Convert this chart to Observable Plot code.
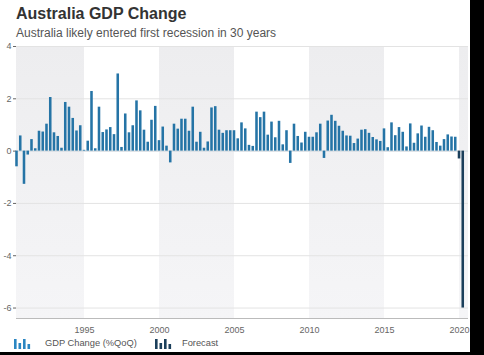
<!DOCTYPE html>
<html><head><meta charset="utf-8">
<script src="https://cdn.jsdelivr.net/npm/d3@7"></script>
<script src="https://cdn.jsdelivr.net/npm/@observablehq/plot@0.6"></script>
<style>
html,body{margin:0;padding:0;background:#000;font-family:"Liberation Sans",Arial,sans-serif;}
#wrap{position:relative;width:470px;height:352px;background:#fff;overflow:hidden;}
#title{position:absolute;left:16px;top:5px;font-size:16px;font-weight:bold;color:#333;white-space:nowrap;}
#subtitle{position:absolute;left:16px;top:26px;font-size:12px;color:#555;white-space:nowrap;}
#chart{position:absolute;left:0;top:40px;}
#legend{position:absolute;left:0;top:337px;width:470px;height:14px;font-size:9.3px;color:#555;}
#legend .ic{position:absolute;top:2px;}
#legend .tx{position:absolute;top:1px;white-space:nowrap;}
</style></head>
<body><div id="wrap">
<div id="title">Australia GDP Change</div>
<div id="subtitle">Australia likely entered first recession in 30 years</div>
<div id="chart"></div>
<div id="legend"></div>
</div>
<script>
const startYear = 1990, startQuarter = 3;
const gdpChange = [
 -0.6, 0.58, -1.27, -0.15, 0.44, 0.09, 0.76, 0.73, 1.03, 2.05,
 0.70, 0.56, 0.11, 1.86, 1.68, 1.25, 0.77, 0.97, 0.03, 0.38,
 2.28, 0.09, 1.68, 0.71, 0.81, 0.90, 0.63, 2.95, 0.14, 1.42,
 0.70, 0.97, 1.92, 1.54, 0.80, 0.34, 1.18, 1.71, 0.40, 0.92,
 0.19, -0.45, 1.03, 0.84, 1.22, 1.22, 0.76, 1.68, 0.34, 0.72,
 0.11, 0.35, 1.65, 1.70, 0.80, 0.68, 0.78, 0.78, 0.78, 0.47,
 1.08, 0.85, 0.22, 0.18, 1.49, 1.28, 1.49, 0.61, 1.11, 0.51,
 1.14, 0.24, 0.78, -0.47, 1.03, 0.56, 0.31, 0.72, 0.53, 0.53,
 0.70, 1.03, -0.28, 1.15, 1.37, 1.14, 0.95, 0.76, 0.58, 0.57,
 0.29, 0.46, 0.80, 0.82, 0.68, 0.52, 0.43, 0.37, 0.85, 0.13,
 1.08, 0.59, 0.90, 0.72, 0.16, 1.04, 0.30, 0.66, 0.96, 0.53,
 0.91, 0.78, 0.33, 0.19, 0.44, 0.62, 0.54, 0.53
];
const forecastQuarters = ["2020 Q1", "2020 Q2"];
const forecastChange = [-0.3, -6.0];
const shadedFrom = [1990, 2000, 2010, 2020];
const yTicks = [-6, -4, -2, 0, 2, 4];
const xTicks = [1995, 2000, 2005, 2010, 2015, 2020];
const seriesNames = ["GDP Change (%QoQ)", "Forecast"];
const seriesColors = ["#2574a6", "#1b3f5b"];
const legendIconColors = ["#2b86c2", "#1b3f5b"];

const actual = gdpChange.map((v, i) => ({t: startYear + (startQuarter - 1) / 4 + i / 4, value: v}));
const forecast = forecastQuarters.map((q, i) => {
  const [y, qq] = q.split(" Q");
  return {t: +y + (+qq - 1) / 4, value: forecastChange[i]};
});
const halfW = 0.085;

const plot = Plot.plot({
  width: 470, height: 298,
  marginTop: 6, marginBottom: 20, marginLeft: 16, marginRight: 2,
  style: {fontFamily: "Liberation Sans, Arial, sans-serif", fontSize: "9px", color: "#666", background: "transparent"},
  x: {domain: [1990.467, 2020.6], ticks: xTicks, tickFormat: d => String(d), tickSize: 0, tickPadding: 8, label: null},
  y: {domain: [-6.4, 4], ticks: yTicks, tickFormat: d => String(d), tickSize: 3, tickPadding: 2, label: null},
  marks: [
    Plot.rect(shadedFrom, {x1: d => d, x2: d => d + 5, fill: "url(#bandGrad)", clip: true}),
    Plot.ruleY(yTicks, {stroke: "#e3e3e3"}),
    Plot.ruleY([0], {stroke: "#d6dde3"}),
    Plot.ruleY([-6.4], {stroke: "#bbb"}),
    Plot.rectY(actual, {x1: d => d.t - halfW, x2: d => d.t + halfW, y: "value", fill: seriesColors[0]}),
    Plot.rectY(forecast, {x1: d => d.t - halfW, x2: d => d.t + halfW, y: "value", fill: seriesColors[1]})
  ]
});
const svg = d3.select(plot);
const defs = svg.insert("defs", ":first-child");
const grad = defs.append("linearGradient").attr("id", "bandGrad").attr("x1", 0).attr("y1", 0).attr("x2", 0).attr("y2", 1);
grad.append("stop").attr("offset", "0%").attr("stop-color", "#ededef");
grad.append("stop").attr("offset", "100%").attr("stop-color", "#f5f5f7");
document.getElementById("chart").appendChild(plot);

const legend = d3.select("#legend");
const iconLeft = [14, 155], textLeft = [45, 182];
seriesNames.forEach((name, k) => {
  const ic = legend.append("svg").attr("class", "ic").style("left", iconLeft[k] + "px").attr("width", 17).attr("height", 10);
  [10, 6, 10, 5].forEach((h, j) => ic.append("rect").attr("x", j * 4.5).attr("y", 10 - h).attr("width", 2.6).attr("height", h).attr("fill", legendIconColors[k]));
  legend.append("span").attr("class", "tx").style("left", textLeft[k] + "px").text(name);
});
</script>
</body></html>
